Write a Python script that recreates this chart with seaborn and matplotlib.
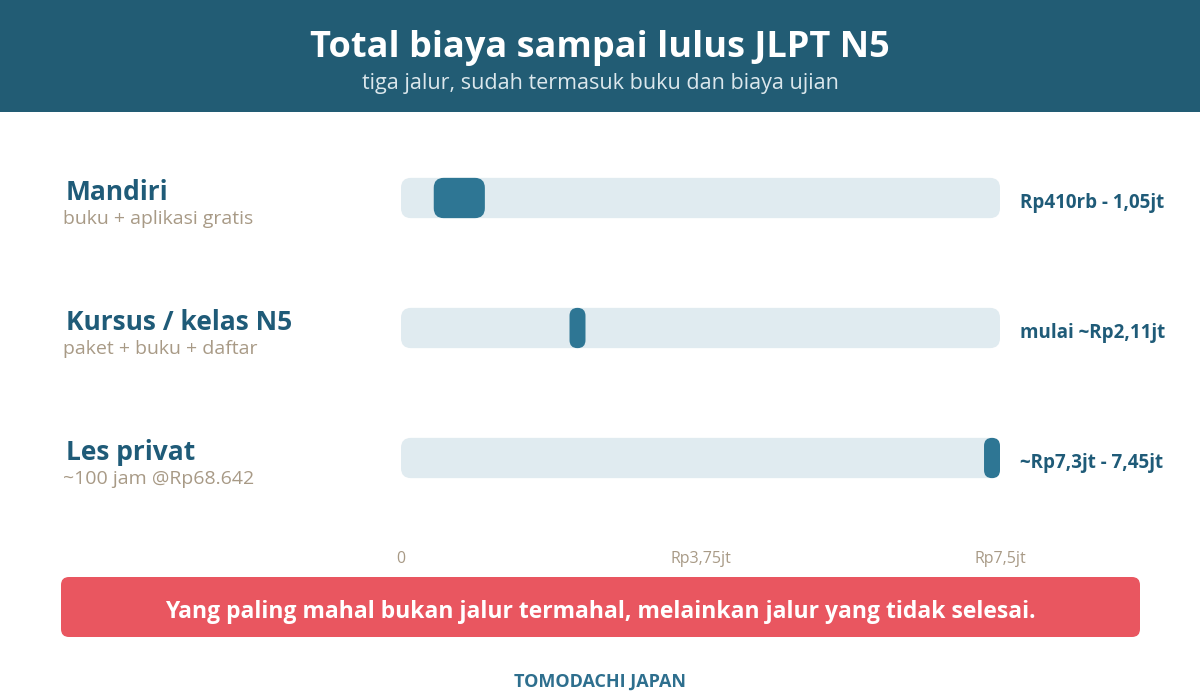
import matplotlib
matplotlib.use("Agg")
import matplotlib.pyplot as plt
from matplotlib.patches import FancyBboxPatch, Rectangle
import seaborn as sns

# Data
paths = ["Mandiri", "Kursus / kelas N5", "Les privat"]
notes = ["buku + aplikasi gratis", "paket + buku + daftar", "~100 jam @Rp68.642"]
cost_low = [0.41, 2.11, 7.30]    # juta rupiah
cost_high = [1.05, 2.11, 7.45]
value_labels = ["Rp410rb - 1,05jt", "mulai ~Rp2,11jt", "~Rp7,3jt - 7,45jt"]
scale_max = 7.5
tick_values = [0, 3.75, 7.5]
tick_labels = ["0", "Rp3,75jt", "Rp7,5jt"]

title = "Total biaya sampai lulus JLPT N5"
subtitle = "tiga jalur, sudah termasuk buku dan biaya ujian"
banner = "Yang paling mahal bukan jalur termahal, melainkan jalur yang tidak selesai."
footer = "TOMODACHI JAPAN"

# Colours
HEADER = "#225c74"
DARK = "#1f5b78"
BAR = "#2e7694"
TRACK = "#e0ebf0"
TAN = "#a89a86"
RED = "#e95660"

sns.set_theme(style="white")
plt.rcParams["font.family"] = ["Open Sans", "DejaVu Sans"]

W, H = 1200, 700
fig = plt.figure(figsize=(12, 7), dpi=100)
fig.patch.set_facecolor("white")

# overlay in pixel coordinates for decoration
deco = fig.add_axes([0, 0, 1, 1], zorder=0)
deco.set_xlim(0, W)
deco.set_ylim(H, 0)
deco.axis("off")

deco.add_patch(Rectangle((0, 0), W, 112, color=HEADER, lw=0))
deco.text(600, 48, title, color="white", fontsize=26, fontweight="bold",
          ha="center", va="center")
deco.text(600, 84, subtitle, color="#dbe7ec", fontsize=15.5, ha="center", va="center")

deco.add_patch(FancyBboxPatch((61, 577), 1079, 60,
                              boxstyle="round,pad=0,rounding_size=8",
                              color=RED, lw=0))
deco.text(600, 612, banner, color="white", fontsize=16.5, fontweight="bold",
          ha="center", va="center")
deco.text(600, 682, footer, color="#2e6f8e", fontsize=13, fontweight="bold",
          ha="center", va="center")

# data axes: x 401..1000 px, y 133..523 px
ax = fig.add_axes([401 / W, 1 - 523 / H, 599 / W, 390 / H], zorder=1)
ax.patch.set_alpha(0)

bar_h = 0.31
sns.barplot(x=[scale_max] * len(paths), y=paths, orient="h", color=TRACK,
            saturation=1, width=bar_h, ax=ax)
widths = [max(h - l, 0.2) for l, h in zip(cost_low, cost_high)]
ax.barh(paths, widths, left=cost_low, height=bar_h, color=BAR)

ax.set_xlim(0, scale_max)
ax.set_ylim(2.5, -0.5)
ax.axis("off")

# replace bars with rounded boxes
px_x = scale_max / 599
px_y = 3 / 390
aspect = px_y / px_x
for i, p in enumerate(list(ax.patches)):
    x0, y0, w, h = p.get_x(), p.get_y(), p.get_width(), p.get_height()
    fc = p.get_facecolor()
    p.remove()
    r = min(10 * px_x, w / 2)
    ax.add_patch(FancyBboxPatch((x0, y0), w, h,
                                boxstyle=f"round,pad=0,rounding_size={r}",
                                mutation_aspect=aspect, fc=fc, lw=0,
                                zorder=2 if i >= len(paths) else 1))

for i, (name, note, val) in enumerate(zip(paths, notes, value_labels)):
    ax.text(-335 * px_x, i - 0.04, name, color=DARK, fontsize=19,
            fontweight="bold", ha="left", va="center")
    ax.text(-338 * px_x, i + 0.16, note, color=TAN, fontsize=14,
            ha="left", va="center")
    ax.text(scale_max + 20 * px_x, i + 0.04, val, color=DARK, fontsize=13.5,
            fontweight="bold", ha="left", va="center")

for v, lab in zip(tick_values, tick_labels):
    ax.text(v, 2.5 + 36 * px_y, lab, color=TAN, fontsize=11.5,
            ha="center", va="center")

fig.savefig("out.png", dpi=100, facecolor="white")
